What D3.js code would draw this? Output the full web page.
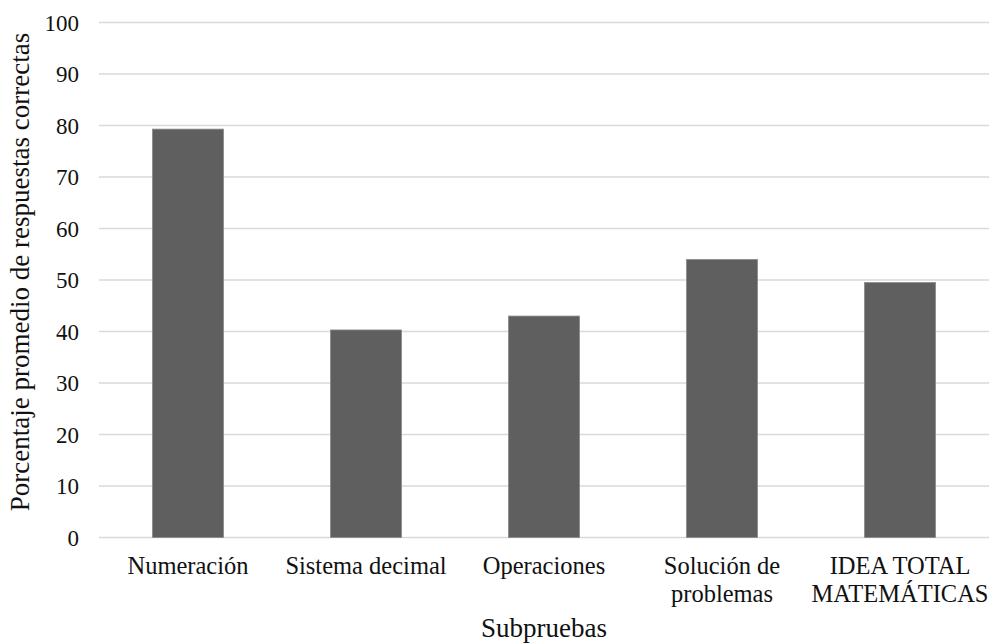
<!DOCTYPE html>
<meta charset="utf-8">
<style type="text/css">
    body { margin: 0; background: white; }
    svg text { font-family: "Liberation Serif", "Times New Roman", serif; fill: #111; }
    svg .grid line { stroke: #d9d9d9; stroke-width: 1.5; }
    svg .bar { fill: #5f5f5f; stroke: #8c8c8c; stroke-width: 0.8; }
</style>
<body>
<script src="https://cdnjs.cloudflare.com/ajax/libs/d3/7.8.5/d3.min.js"></script>
<script>
    var categories = [["Numeración"], ["Sistema decimal"], ["Operaciones"],
                      ["Solución de", "problemas"], ["IDEA TOTAL", "MATEMÁTICAS"]];
    var values = [79.3, 40.3, 43.0, 54.0, 49.5];
    var yTicks = [0, 10, 20, 30, 40, 50, 60, 70, 80, 90, 100];

    var w = 989, h = 643;
    var mLeft = 99, mRight = 989, mTop = 22.5, mBottom = 537.5;

    var svg = d3.select("body").append("svg")
                .attr("width", w).attr("height", h);

    var x = d3.scaleBand()
              .domain(d3.range(values.length))
              .range([mLeft, mRight])
              .paddingInner(0.6)
              .paddingOuter(0.3);

    var y = d3.scaleLinear().domain([0, 100]).range([mBottom, mTop]);

    // gridlines
    svg.append("g").attr("class", "grid")
       .selectAll("line").data(yTicks).enter().append("line")
       .attr("x1", mLeft).attr("x2", mRight)
       .attr("y1", function(d) { return y(d); })
       .attr("y2", function(d) { return y(d); });

    // y tick labels
    svg.append("g").selectAll("text").data(yTicks).enter().append("text")
       .attr("x", 79).attr("y", function(d) { return y(d); })
       .attr("dy", "0.35em").attr("text-anchor", "end")
       .style("font-size", "23px")
       .text(function(d) { return d; });

    // bars
    svg.selectAll("rect.bar").data(values).enter().append("rect")
       .attr("class", "bar")
       .attr("x", function(d, i) { return x(i); })
       .attr("y", function(d) { return y(d); })
       .attr("width", x.bandwidth())
       .attr("height", function(d) { return y(0) - y(d); });

    // category labels (may wrap to two lines)
    var cat = svg.append("g").selectAll("text").data(categories).enter().append("text")
       .attr("text-anchor", "middle")
       .attr("x", function(d, i) { return x(i) + x.bandwidth() / 2; })
       .attr("y", 574)
       .style("font-size", "24.5px");
    cat.selectAll("tspan").data(function(d) { return d; }).enter().append("tspan")
       .attr("x", function() { return d3.select(this.parentNode).attr("x"); })
       .attr("dy", function(d, i) { return i ? 28 : 0; })
       .text(function(d) { return d; });

    // axis titles
    svg.append("text")
       .attr("x", 544).attr("y", 637)
       .attr("text-anchor", "middle").style("font-size", "27px")
       .text("Subpruebas");

    svg.append("text")
       .attr("transform", "translate(29,272) rotate(-90)")
       .attr("text-anchor", "middle").style("font-size", "27px")
       .text("Porcentaje promedio de respuestas correctas");
</script>
</body>
